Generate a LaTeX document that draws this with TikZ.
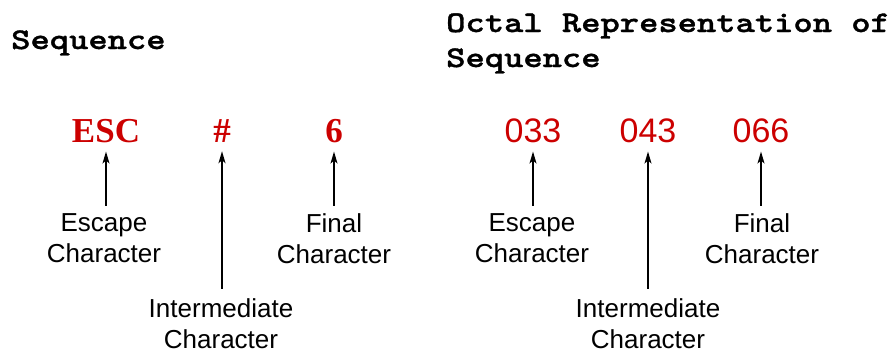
\documentclass[tikz,border=0pt]{standalone}
\usepackage{fontspec}
\usetikzlibrary{arrows.meta}
\newfontfamily\hdfont{lmmonolt10-bold.otf}[FakeStretch=1.225,FakeBold=1.2]
\newfontfamily\symserif{Liberation Serif}
\newfontfamily\lblfont{Liberation Sans}
\definecolor{symred}{RGB}{204,0,0}
\begin{document}
\begin{tikzpicture}[x=1pt,y=-1pt,
  hdr/.style={inner sep=0pt, anchor=base west, align=left, font={\hdfont\fontsize{30}{35}\selectfont}},
  symA/.style={inner sep=0pt, anchor=base, text=symred, font={\symserif\bfseries\fontsize{35}{40}\selectfont}},
  symB/.style={inner sep=0pt, anchor=base, text=symred, font={\lblfont\fontsize{34}{40}\selectfont}},
  lbl/.style={inner sep=0pt, anchor=north, align=center, font={\lblfont\fontsize{26}{31}\selectfont}},
  arr/.style={line width=1.5pt, -{Stealth[length=12pt,width=7pt,inset=3pt]}}
]
\useasboundingbox (0,0) rectangle (894,354);
% headers
\node[hdr] (h1) at (11,49) {Sequence};
\node[hdr] (h2) at (446,67) {Octal Representation of\\Sequence};
% left symbols
\node[symA] (s1) at (106,142) {ESC};
\node[symA] (s2) at (222,142) {\#};
\node[symA] (s3) at (334,142) {6};
% right symbols
\node[symB] (o1) at (533,142) {033};
\node[symB] (o2) at (648,142) {043};
\node[symB] (o3) at (761,142) {066};
% labels left
\node[lbl] (l1) at (104,213.5) {Escape\\Character};
\node[lbl] (l2) at (221,298.5) {Intermediate\\Character};
\node[lbl] (l3) at (334,213.5) {Final\\Character};
% labels right
\node[lbl] (r1) at (532,213.5) {Escape\\Character};
\node[lbl] (r2) at (648,298.5) {Intermediate\\Character};
\node[lbl] (r3) at (762,213.5) {Final\\Character};
% arrows
\foreach \s/\l/\g in {s1/l1/8, s2/l2/10, s3/l3/8, o1/r1/8, o2/r2/10, o3/r3/8}
  \draw[arr, shorten <=\g pt, shorten >=9pt] (\s.south |- \l.north) -- (\s.south);
\end{tikzpicture}
\end{document}
